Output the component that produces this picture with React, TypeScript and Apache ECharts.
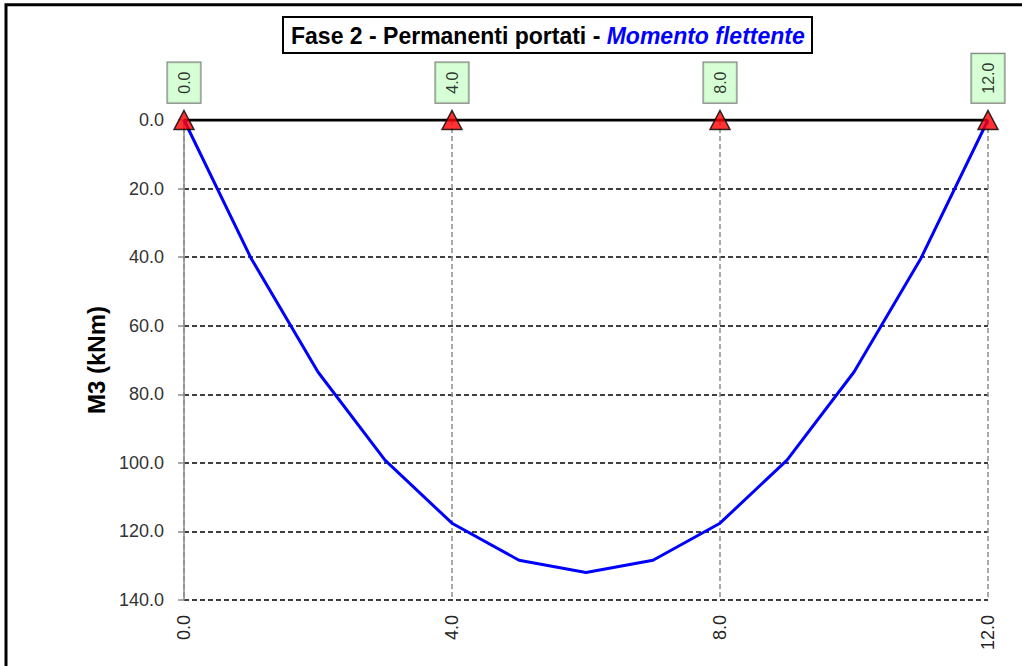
import React, { useEffect, useRef } from "react";
import * as echarts from "echarts";

const titleMain = "Fase 2 - Permanenti portati - ";
const titleSub = "Momento flettente";
const yAxisName = "M3 (kNm)";

const stations = [0, 1, 2, 3, 4, 5, 6, 7, 8, 9, 10, 11, 12];
const moment = [0, 40.3, 73.5, 99.2, 117.6, 128.4, 132.0, 128.4, 117.6, 99.2, 73.5, 40.3, 0];
const supports = [0, 4, 8, 12];
const beamEnds = [0, 12];

export default function App() {
  const ref = useRef<HTMLDivElement>(null);
  useEffect(() => {
    if (!ref.current) return;
    const chart = echarts.init(ref.current, null, { renderer: "svg" });
    const font = "Liberation Sans";
    chart.setOption({
      animation: false,
      backgroundColor: "#ffffff",
      textStyle: { fontFamily: font },
      title: {
        left: 283,
        top: 15,
        text: `{a|${titleMain}}{b|${titleSub}}`,
        backgroundColor: "#ffffff",
        borderColor: "#000000",
        borderWidth: 2,
        padding: [7, 8, 6, 8],
        textStyle: {
          rich: {
            a: { fontFamily: font, fontSize: 23, lineHeight: 27, fontWeight: "bold", color: "#000000" },
            b: { fontFamily: font, fontSize: 23, lineHeight: 27, fontWeight: "bold", fontStyle: "italic", color: "#0000ff" },
          },
        },
      },
      graphic: [
        {
          type: "rect",
          shape: { x: 6, y: 4.7, width: 1200, height: 900 },
          style: { fill: "none", stroke: "#000000", lineWidth: 3 },
          silent: true,
          z: 100,
        },
      ],
      grid: { left: 184, right: 34, top: 120, bottom: 66 },
      xAxis: {
        type: "value",
        min: 0,
        max: 12,
        interval: 4,
        axisLine: { show: false },
        axisTick: { show: false },
        axisLabel: {
          rotate: 90,
          margin: 15,
          fontSize: 18,
          color: "#262626",
          fontFamily: font,
          formatter: (v: number) => v.toFixed(1),
        },
        splitLine: { show: true, lineStyle: { color: "#8c8c8c", width: 1.5, type: [5, 3] } },
      },
      yAxis: {
        type: "value",
        inverse: true,
        min: 0,
        max: 140,
        interval: 20,
        name: yAxisName,
        nameLocation: "middle",
        nameGap: 76,
        nameTextStyle: { fontSize: 24, fontWeight: "bold", color: "#000000", fontFamily: font },
        axisLine: { show: true, lineStyle: { color: "#8c8c8c", width: 1.5 } },
        axisTick: { show: true, length: 6, lineStyle: { color: "#8c8c8c", width: 1.5 } },
        axisLabel: {
          margin: 20,
          fontSize: 18,
          color: "#333333",
          fontFamily: font,
          formatter: (v: number) => v.toFixed(1),
        },
        splitLine: { show: true, lineStyle: { color: "#000000", width: 1.5, type: [5, 3] } },
      },
      series: [
        {
          type: "line",
          data: beamEnds.map((x) => [x, 0]),
          symbol: "none",
          lineStyle: { color: "#000000", width: 3 },
          z: 3,
        },
        {
          type: "line",
          data: stations.map((x, i) => [x, moment[i]]),
          symbol: "none",
          lineStyle: { color: "#0000ff", width: 3 },
          z: 4,
        },
        {
          type: "scatter",
          data: supports.map((x) => [x, 0]),
          symbol: "triangle",
          symbolSize: [20, 19],
          itemStyle: { color: "#ff0000", borderColor: "#000000", borderWidth: 1.5 },
          z: 5,
          label: {
            show: true,
            position: "top",
            distance: 7,
            rotate: 90,
            align: "left",
            verticalAlign: "middle",
            fontSize: 16,
            lineHeight: 19,
            fontFamily: font,
            color: "#000000",
            backgroundColor: "#ccffcc",
            borderColor: "#555555",
            borderWidth: 1,
            padding: [7, 9, 7, 9],
            formatter: (p: any) => p.value[0].toFixed(1),
          },
        },
      ],
    });
    return () => chart.dispose();
  }, []);
  return (
    <div
      ref={ref}
      style={{ position: "fixed", left: 0, top: 0, width: 1022, height: 666 }}
    />
  );
}
